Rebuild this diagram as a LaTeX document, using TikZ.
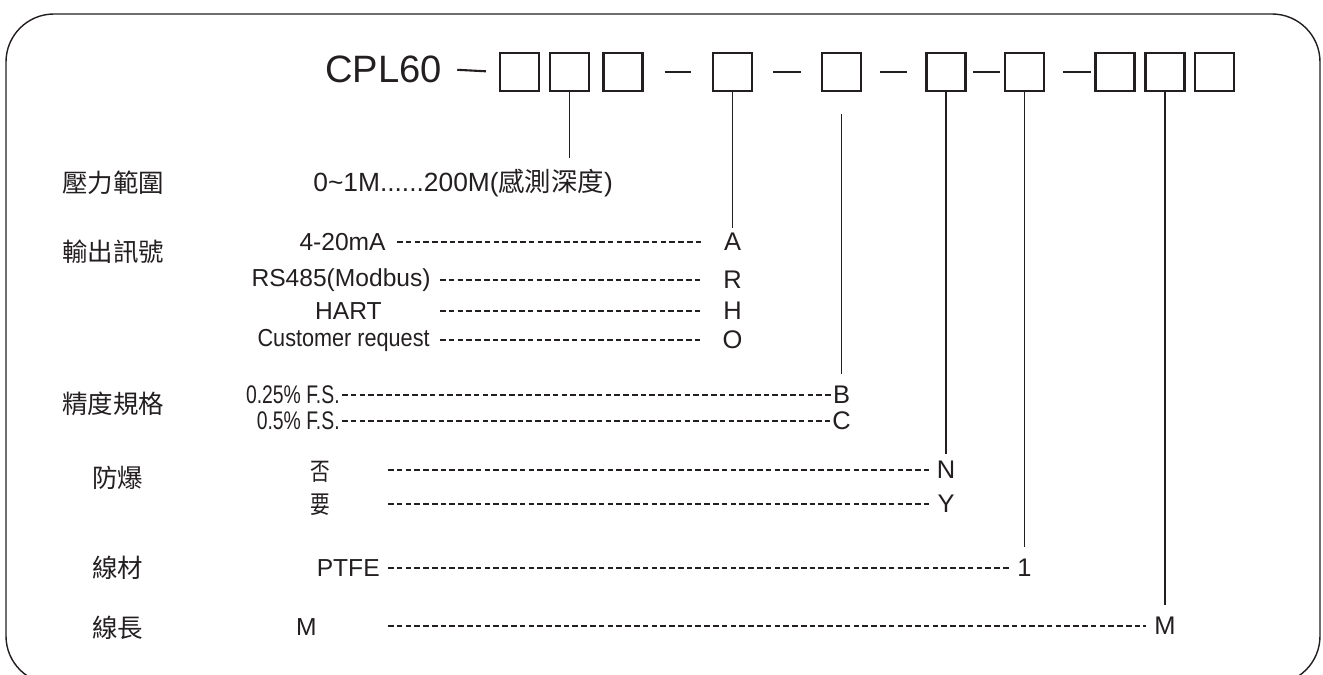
\documentclass[tikz,border=0pt]{standalone}
\usepackage{fontspec}
\setmainfont{Liberation Sans}
\newfontfamily\cjk{Noto Sans CJK TC}
\newfontfamily\cjknarrow[FakeStretch=0.8]{Noto Sans CJK TC}
\newfontfamily\narrow[FakeStretch=0.76]{Liberation Sans}
\newfontfamily\semi[FakeStretch=0.88]{Liberation Sans}
\usetikzlibrary{positioning,calc}
\definecolor{ink}{RGB}{35,31,32}

\begin{document}
\begin{tikzpicture}[x=0.02cm,y=-0.02cm,line join=miter]
\tikzstyle{digit}=[draw=ink,line width=1.3pt,minimum width=0.78cm,minimum height=0.76cm,inner sep=0pt]
\tikzstyle{sep}=[draw=ink,line width=1.2pt]
\tikzstyle{stem}=[draw=ink,line width=1.1pt]
\tikzstyle{leader}=[draw=ink,line width=0.6pt,dash pattern=on 3.2pt off 1.8pt]
\tikzstyle{group}=[font=\cjk\fontsize{14.5}{16}\selectfont,text=ink,inner sep=0pt,anchor=west]
\tikzstyle{opt}=[font=\fontsize{14}{16}\selectfont,text=ink,inner sep=0pt,anchor=east]
\tikzstyle{code}=[font=\fontsize{14.5}{16}\selectfont,text=ink,inner sep=1pt]
\useasboundingbox (0,0) rectangle (1323,675);
\begin{scope}
\clip (0,0) rectangle (1323,675);
\draw[ink,line width=0.8pt,rounded corners=0.96cm] (6,14) rectangle (1320,684);
\end{scope}
% model code
\node[text=ink,inner sep=0pt,anchor=west,font=\fontsize{21.7}{24}\selectfont] (title) at (325,69) {CPL60};
\node[digit] (b1) at (519.5,72) {};
\node[digit] (b2) at (569.5,72) {};
\node[digit] (b3) at (623,72) {};
\node[digit] (b4) at (732.5,72) {};
\node[digit] (b5) at (841.5,72) {};
\node[digit] (b6) at (946,72) {};
\node[digit] (b7) at (1024.5,72) {};
\node[digit] (b8) at (1115,72) {};
\node[digit] (b9) at (1165,72) {};
\node[digit] (b10) at (1214.5,72) {};
\draw[sep,shorten <=0.3cm,shorten >=0.26cm] (title.east) -- (b1.west);
\draw[sep,shorten <=0.42cm,shorten >=0.41cm] (b3.east) -- (b4.west);
\draw[sep,shorten <=0.4cm,shorten >=0.4cm] (b4.east) -- (b5.west);
\draw[sep,shorten <=0.36cm,shorten >=0.36cm] (b5.east) -- (b6.west);
\draw[sep,shorten <=0.13cm,shorten >=0.08cm] (b6.east) -- (b7.west);
\draw[sep,shorten <=0.36cm,shorten >=0.07cm] (b7.east) -- (b8.west);
% group names
\node[group] (gRange) at (62,183) {壓力範圍};
\node[group] (gSig) at (62,252) {輸出訊號};
\node[group] (gAcc) at (62,404) {精度規格};
\node[group] (gEx) at (92,478) {防爆};
\node[group] (gCab) at (92,568) {線材};
\node[group] (gLen) at (92,628) {線長};
% pressure range
\node[text=ink,inner sep=0pt,anchor=west,font=\fontsize{15}{17}\selectfont] (rng) at (313,183) {0\textasciitilde 1M......200M({\cjk 感測深度})};
% options
\node[opt] (sigA) at (386,242) {4-20mA};
\node[opt] (sigR) at (431,280) {RS485(Modbus)};
\node[opt] (sigH) at (382,311) {HART};
\node[opt,font=\semi\fontsize{14}{16}\selectfont] (sigO) at (430,340) {Customer request};
\node[opt,font=\narrow\fontsize{14.5}{16}\selectfont] (accB) at (340,395) {0.25\% F.S.};
\node[opt,font=\narrow\fontsize{14.5}{16}\selectfont] (accC) at (340,421) {0.5\% F.S.};
\node[text=ink,inner sep=0pt,font=\cjknarrow\fontsize{14}{16}\selectfont] (exN) at (320,472) {否};
\node[text=ink,inner sep=0pt,font=\cjknarrow\fontsize{14}{16}\selectfont] (exY) at (320,505) {要};
\node[opt] (cab1) at (380,568) {PTFE};
\node[opt] (lenM) at (317,627) {M};
% codes
\node[code] (codeA) at (732.5,242) {A};
\node[code] (codeR) at (732.5,280) {R};
\node[code] (codeH) at (732.5,311) {H};
\node[code] (codeO) at (732.5,340) {O};
\node[code] (codeB) at (841.5,395) {B};
\node[code] (codeC) at (841.5,421) {C};
\node[code] (codeN) at (946,470) {N};
\node[code] (codeY) at (946,504) {Y};
\node[code] (code1) at (1024.5,568) {1};
\node[code] (codeM) at (1165,626) {M};
% stems
\draw[stem,shorten >=0.22cm] (b2.south) -- (b2.south |- rng.north);
\draw[stem,shorten >=0.06cm] (b4.south) -- (codeA.north);
\draw[stem,shorten <=0.44cm,shorten >=0.2cm] (b5.south) -- (codeB.north);
\draw[stem,shorten >=0.1cm] (b6.south) -- (codeN.north);
\draw[stem,shorten >=0.2cm] (b7.south) -- (code1.north);
\draw[stem,shorten >=0.2cm] (b9.south) -- (codeM.north);
% leaders
\coordinate (sigL) at (440,0);
\coordinate (exL) at (388,0);
\draw[leader,shorten <=0.22cm,shorten >=0.36cm] (sigA.east) -- (codeA.west);
\draw[leader,shorten >=0.36cm] (sigL |- codeR.west) -- (codeR.west);
\draw[leader,shorten >=0.36cm] (sigL |- codeH.west) -- (codeH.west);
\draw[leader,shorten >=0.36cm] (sigL |- codeO.west) -- (codeO.west);
\draw[leader,shorten <=0.04cm] (accB.east) -- (codeB.west);
\draw[leader,shorten <=0.04cm] (accC.east) -- (codeC.west);
\draw[leader,shorten >=0.1cm] (exL |- codeN.west) -- (codeN.west);
\draw[leader,shorten >=0.1cm] (exL |- codeY.west) -- (codeY.west);
\draw[leader,shorten <=0.16cm,shorten >=0.08cm] (cab1.east) -- (code1.west);
\draw[leader,shorten >=0.12cm] (exL |- codeM.west) -- (codeM.west);
\end{tikzpicture}
\end{document}
